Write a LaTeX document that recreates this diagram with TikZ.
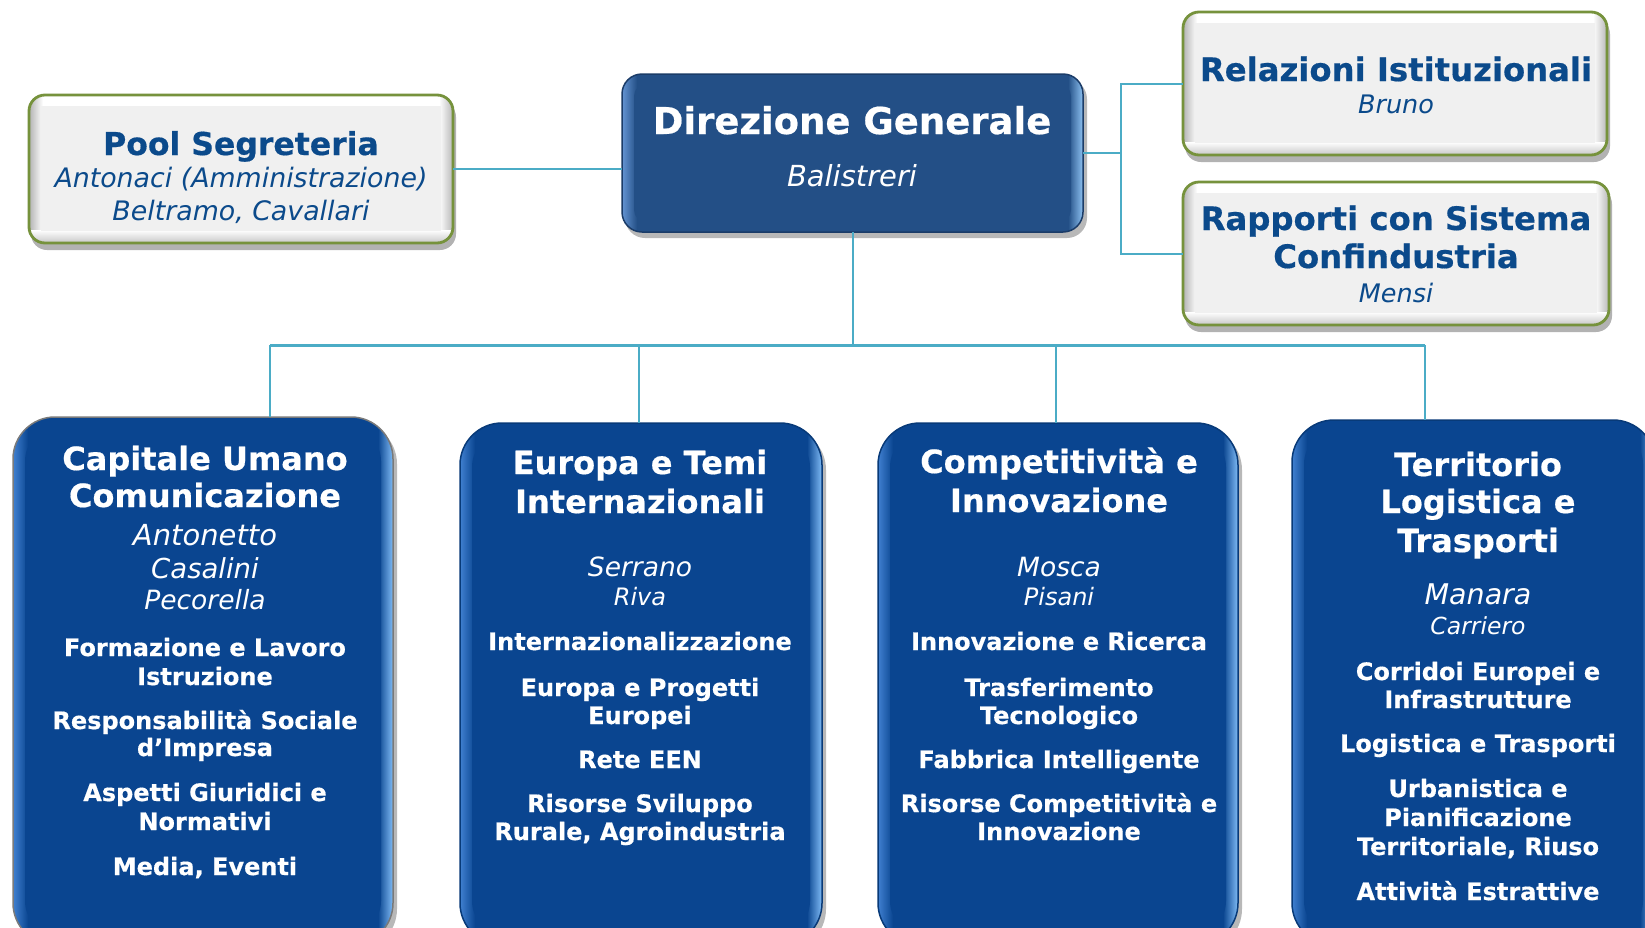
\documentclass[tikz,border=0pt]{standalone}
\usepackage{fontspec}
\setmainfont{DejaVu Sans}[BoldFont={DejaVu Sans Bold},BoldFeatures={FakeBold=0.5},ItalicFont={DejaVu Sans Oblique},BoldItalicFont={DejaVu Sans Bold Oblique}]
\definecolor{navy}{HTML}{0B4A8B}
\definecolor{bluefill}{HTML}{0A4590}
\definecolor{blueedge}{HTML}{083A78}
\definecolor{greyedge}{HTML}{7A7A7A}
\definecolor{bandL}{HTML}{4080D0}
\definecolor{bandR}{HTML}{80BCF6}
\definecolor{dgfill}{HTML}{234F86}
\definecolor{dgedge}{HTML}{1B3C68}
\definecolor{dgbandL}{HTML}{6494D2}
\definecolor{dgbandR}{HTML}{8EC2F2}
\definecolor{olive}{HTML}{76923C}
\definecolor{panel}{HTML}{F0F0F0}
\definecolor{linkc}{HTML}{4BACC6}
\newcommand\rad{40}
% #1 name, #2 x1, #3 y1, #4 x2, #5 y2, #6 fill, #7 left band, #8 right band, #9 edge
\newcommand\bevelbox[9]{%
 \fill[black,opacity=.28,rounded corners=\rad] (#2+3,#3+5) rectangle (#4+4,#5+6);
 \fill[#6,rounded corners=\rad] (#2,#3) rectangle (#4,#5);
 \begin{scope}
  \clip[rounded corners=\rad] (#2,#3) rectangle (#4,#5);
  \shade[left color=#7,right color=#6] (#2,#3) rectangle (#2+15,#5);
  \shade[left color=#6,right color=#8] (#4-15,#3) rectangle (#4,#5);
 \end{scope}
 \fill[#6,rounded corners={\rad-8}] (#2+12,#3+10) rectangle (#4-12,#5-10);
 \node[draw=#9,line width=1.5pt,rounded corners=\rad,inner sep=0pt,outer sep=0pt,
   minimum width={#4-#2},minimum height={#5-#3}] (#1) at ({(#2+#4)/2},{(#3+#5)/2}) {};
}
% #1 name, #2 x1, #3 y1, #4 x2, #5 y2
\newcommand\greybox[5]{%
 \fill[black,opacity=.3,rounded corners=16] (#2+2,#3+6) rectangle (#4+3,#5+7);
 \fill[white,rounded corners=16] (#2,#3) rectangle (#4,#5);
 \begin{scope}
  \clip[rounded corners=16] (#2,#3) rectangle (#4,#5);
  \shade[left color=black!30,right color=white] (#2,#3) rectangle (#2+14,#5);
  \shade[left color=white,right color=black!28] (#4-14,#3) rectangle (#4,#5);
  \shade[top color=white,bottom color=black!22] (#2,#5-13) rectangle (#4,#5);
 \end{scope}
 \fill[panel] (#2+12,#3+11) rectangle (#4-12,#5-12);
 \node[draw=olive,line width=2.8pt,rounded corners=16,inner sep=0pt,outer sep=0pt,
   minimum width={#4-#2},minimum height={#5-#3}] (#1) at ({(#2+#4)/2},{(#3+#5)/2}) {};
}
\tikzset{
 txt/.style={anchor=base,inner sep=0pt,outer sep=0pt},
 wt/.style={txt,text=white},
 nt/.style={txt,text=navy},
 bigtitle/.style={font=\bfseries\fontsize{37}{44}\selectfont},
 ttl/.style={font=\bfseries\fontsize{#1}{36}\selectfont},
 ttl/.default=32,
 item/.style={font=\bfseries\fontsize{24}{29}\selectfont,yshift=-3pt},
 nm/.style={font=\itshape\fontsize{#1}{#1}\selectfont},
 conn/.style={draw=linkc,line width=2pt},
}
\begin{document}
\begin{tikzpicture}[x=1pt,y=-1pt]
\clip (0,0) rectangle (1645,927);
\fill[white] (0,0) rectangle (1645,927);

% ---------- boxes ----------
\greybox{pool}{29}{95}{453}{243}
\greybox{rel}{1183}{12}{1607}{155}
\greybox{rap}{1183}{182}{1609}{325}
\renewcommand\rad{20}
\bevelbox{dg}{622}{74}{1083}{232}{dgfill}{dgbandL}{dgbandR}{dgedge}
\renewcommand\rad{42}
\bevelbox{cu}{13}{417}{393}{945}{bluefill}{bandL}{bandR}{greyedge}
\bevelbox{eu}{460}{423}{822}{945}{bluefill}{bandL}{bandR}{blueedge}
\bevelbox{co}{878}{423}{1238}{945}{bluefill}{bandL}{bandR}{blueedge}
\bevelbox{te}{1292}{420}{1655}{945}{bluefill}{bandL}{bandR}{blueedge}

% ---------- connectors ----------
\coordinate (jr) at (1121,153);
\coordinate (b1) at (270,345);
\coordinate (b2) at (639,345);
\coordinate (b3) at (1056,345);
\coordinate (b4) at (1425,345);
\draw[conn] (pool.east) -- (pool.east -| dg.west);
\draw[conn] (dg.east) -- (jr);
\draw[conn] (rel.west) -- (rel.west -| jr) -- (rap.west -| jr) -- (rap.west);
\draw[conn] (dg.south) -- (dg.south |- b1);
\draw[conn,line width=3pt] (b1) -- (b4);
\draw[conn] (b1) -- (b1 |- cu.north);
\draw[conn] (b2) -- (b2 |- eu.north);
\draw[conn] (b3) -- (b3 |- co.north);
\draw[conn] (b4) -- (b4 |- te.north);

% ---------- texts: top ----------
\node[nt,ttl=31.5] (pool-t) at (241,155) {Pool Segreteria};
\node[nt,nm=26.8] (pool-n1) at (241,187) {Antonaci (Amministrazione)};
\node[nt,nm=26.8] (pool-n2) at (241,220) {Beltramo, Cavallari};

\node[wt,bigtitle] (dg-t) at (852,134) {Direzione Generale};
\node[wt,nm=29] (dg-n) at (852,186) {Balistreri};

\node[nt,ttl=32.3] (rel-t) at (1396,81) {Relazioni Istituzionali};
\node[nt,nm=25.5] (rel-n) at (1396,113) {Bruno};

\node[nt,ttl=32.3] (rap-t1) at (1396,230) {Rapporti con Sistema};
\node[nt,ttl=32.3] (rap-t2) at (1396,268) {Confindustria};
\node[nt,nm=25.5] (rap-n) at (1396,302) {Mensi};

% ---------- Capitale Umano ----------
\node[wt,ttl] (cu-t1) at (205,470) {Capitale Umano};
\node[wt,ttl] (cu-t2) at (205,507) {Comunicazione};
\node[wt,nm=29] (cu-n1) at (205,545) {Antonetto};
\node[wt,nm=27.5] (cu-n2) at (205,578) {Casalini};
\node[wt,nm=26.5] (cu-n3) at (205,609) {Pecorella};
\node[wt,item] (cu-i1) at (205,653) {Formazione e Lavoro};
\node[wt,item] (cu-i1b) at (205,682) {Istruzione};
\node[wt,item] (cu-i2) at (205,726) {Responsabilità Sociale};
\node[wt,item] (cu-i2b) at (205,753) {d’Impresa};
\node[wt,item] (cu-i3) at (205,798) {Aspetti Giuridici e};
\node[wt,item] (cu-i3b) at (205,827) {Normativi};
\node[wt,item] (cu-i4) at (205,872) {Media, Eventi};

% ---------- Europa ----------
\node[wt,ttl] (eu-t1) at (640,474) {Europa e Temi};
\node[wt,ttl] (eu-t2) at (640,513) {Internazionali};
\node[wt,nm=26.5] (eu-n1) at (640,576) {Serrano};
\node[wt,nm=24] (eu-n2) at (640,605) {Riva};
\node[wt,item] (eu-i1) at (640,647) {Internazionalizzazione};
\node[wt,item] (eu-i2) at (640,693) {Europa e Progetti};
\node[wt,item] (eu-i2b) at (640,721) {Europei};
\node[wt,item] (eu-i3) at (640,765) {Rete EEN};
\node[wt,item] (eu-i4) at (640,809) {Risorse Sviluppo};
\node[wt,item] (eu-i4b) at (640,837) {Rurale, Agroindustria};

% ---------- Competitività ----------
\node[wt,ttl] (co-t1) at (1059,473) {Competitività e};
\node[wt,ttl] (co-t2) at (1059,512) {Innovazione};
\node[wt,nm=26.5] (co-n1) at (1059,576) {Mosca};
\node[wt,nm=24] (co-n2) at (1059,605) {Pisani};
\node[wt,item] (co-i1) at (1059,647) {Innovazione e Ricerca};
\node[wt,item] (co-i2) at (1059,693) {Trasferimento};
\node[wt,item] (co-i2b) at (1059,721) {Tecnologico};
\node[wt,item] (co-i3) at (1059,765) {Fabbrica Intelligente};
\node[wt,item] (co-i4) at (1059,809) {Risorse Competitività e};
\node[wt,item] (co-i4b) at (1059,837) {Innovazione};

% ---------- Territorio ----------
\node[wt,ttl] (te-t1) at (1478,476) {Territorio};
\node[wt,ttl] (te-t2) at (1478,513) {Logistica e};
\node[wt,ttl] (te-t3) at (1478,552) {Trasporti};
\node[wt,nm=28.5] (te-n1) at (1478,604) {Manara};
\node[wt,nm=23.5] (te-n2) at (1478,634) {Carriero};
\node[wt,item] (te-i1) at (1478,677) {Corridoi Europei e};
\node[wt,item] (te-i1b) at (1478,705) {Infrastrutture};
\node[wt,item] (te-i2) at (1478,749) {Logistica e Trasporti};
\node[wt,item] (te-i3) at (1478,794) {Urbanistica e};
\node[wt,item] (te-i3b) at (1478,823) {Pianificazione};
\node[wt,item] (te-i3c) at (1478,852) {Territoriale, Riuso};
\node[wt,item] (te-i4) at (1478,897) {Attività Estrattive};
\end{tikzpicture}
\end{document}
